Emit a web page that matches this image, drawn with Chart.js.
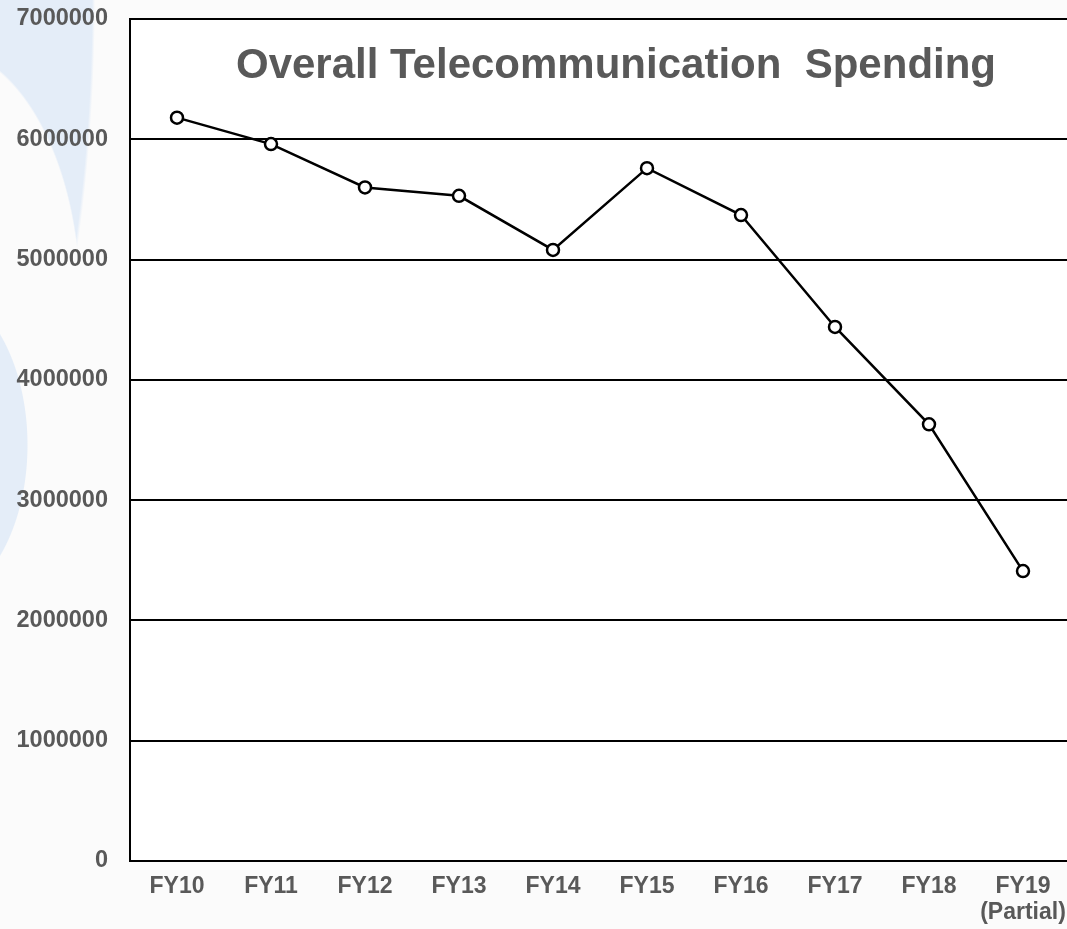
<!DOCTYPE html>
<html lang="en">
<head>
    <meta charset="UTF-8">
    <title>Overall Telecommunication Spending</title>
    <style>
        html, body { margin: 0; padding: 0; overflow: hidden; }
        body {
            width: 1067px; height: 929px;
            background:
                radial-gradient(ellipse 98px 160px at -70px 445px, #e4edf8 99%, rgba(228,237,248,0) 100%),
                radial-gradient(ellipse 141px 254px at -60px 300px, #fbfbfb 99%, rgba(251,251,251,0) 100%),
                radial-gradient(ellipse 295px 732px at -200px 0px, #e4edf8 99%, rgba(228,237,248,0) 100%),
                #fbfbfb;
        }
        /* plot runs a little past the right edge, as in the original */
        #spendChart { display: block; }
    </style>
</head>
<body>
<canvas id="spendChart" width="1070" height="929"></canvas>
<script src="https://cdn.jsdelivr.net/npm/chart.js"></script>
<script>
const years = ['FY10', 'FY11', 'FY12', 'FY13', 'FY14', 'FY15', 'FY16', 'FY17', 'FY18', ['FY19', '(Partial)']];
const spending = [6180000, 5960000, 5600000, 5530000, 5080000, 5760000, 5370000, 4440000, 3630000, 2410000];
const yMin = 0;
const yMax = 7000000;
const yStep = 1000000;
const chartTitle = 'Overall Telecommunication  Spending';

const GREY = '#595959';
const FONT = "'Liberation Sans', Arial, sans-serif";

// white plot area + title drawn inside the frame
const plotDecor = {
    id: 'plotDecor',
    beforeDraw(chart) {
        const { ctx, chartArea } = chart;
        ctx.save();
        ctx.fillStyle = '#ffffff';
        ctx.fillRect(chartArea.left, chartArea.top, chartArea.right - chartArea.left, chartArea.bottom - chartArea.top);
        ctx.restore();
    },
    afterDraw(chart) {
        const { ctx, chartArea } = chart;
        ctx.save();
        ctx.font = 'bold 42px ' + FONT;
        ctx.fillStyle = GREY;
        ctx.textAlign = 'center';
        ctx.textBaseline = 'alphabetic';
        ctx.fillText(chartTitle, (chartArea.left + chartArea.right) / 2 + 16, chartArea.top + 59);
        ctx.restore();
    }
};

const ctx = document.getElementById('spendChart').getContext('2d');
new Chart(ctx, {
    type: 'line',
    data: {
        labels: years,
        datasets: [{
            data: spending,
            borderColor: '#000000',
            borderWidth: 2.5,
            tension: 0,
            pointRadius: 6,
            pointHoverRadius: 6,
            pointBorderWidth: 2.5,
            pointBorderColor: '#000000',
            pointBackgroundColor: '#ffffff',
            fill: false
        }]
    },
    options: {
        responsive: false,
        animation: false,
        layout: { autoPadding: false, padding: { top: 19, right: 0, left: 0, bottom: 0 } },
        plugins: {
            legend: { display: false },
            tooltip: { enabled: false },
            title: { display: false }
        },
        scales: {
            x: {
                offset: true,
                grid: { display: false, drawTicks: false },
                border: { display: true, color: '#000000', width: 2 },
                ticks: {
                    color: GREY,
                    font: { family: FONT, size: 23, weight: 'bold', lineHeight: 1.13 },
                    padding: 13,
                    maxRotation: 0,
                    autoSkip: false
                },
                afterFit(scale) {
                    scale.height = 68;
                    scale.paddingLeft = 0;
                    scale.paddingRight = 0;
                }
            },
            y: {
                min: yMin,
                max: yMax,
                grid: { color: '#000000', lineWidth: 2, drawTicks: false },
                border: { display: true, color: '#000000', width: 2 },
                ticks: {
                    stepSize: yStep,
                    color: GREY,
                    font: { family: FONT, size: 23.5, weight: 'bold' },
                    padding: 22,
                    callback: v => String(v)
                },
                afterFit(scale) {
                    scale.width = 130;
                    scale.paddingTop = 0;
                    scale.paddingBottom = 0;
                }
            }
        }
    },
    plugins: [plotDecor]
});
</script>
</body>
</html>
